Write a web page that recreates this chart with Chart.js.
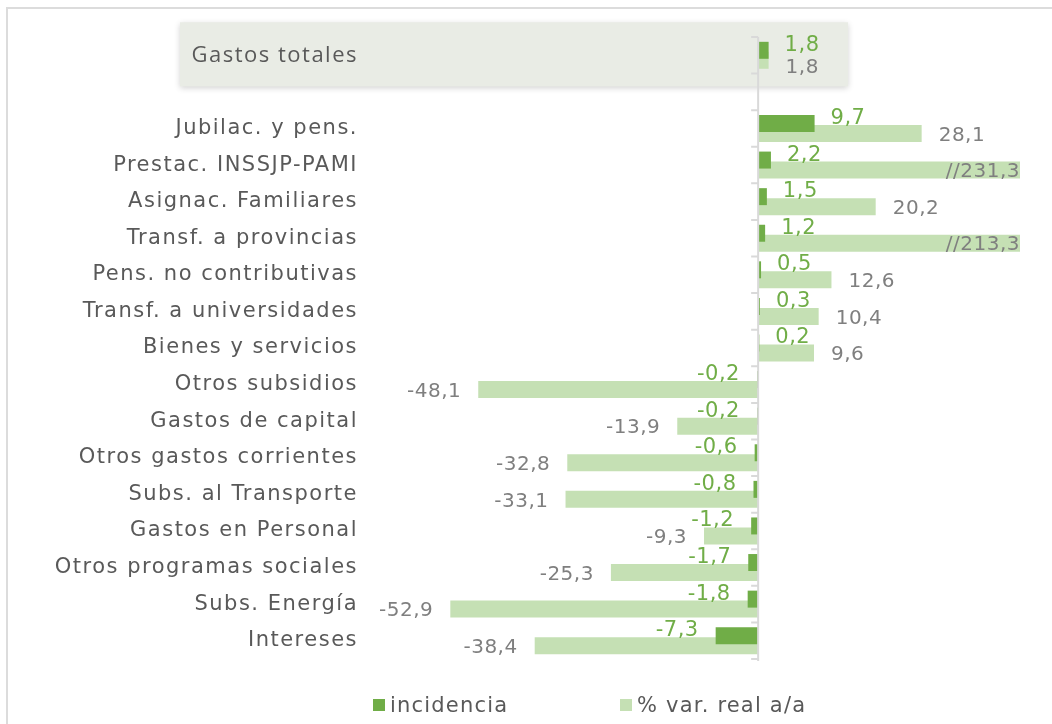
<!DOCTYPE html>
<html>
<head>
<meta charset="utf-8">
<script src="https://cdn.jsdelivr.net/npm/chart.js@4/dist/chart.umd.min.js"></script>
<style>
  body { margin: 0; background: #fff; overflow: hidden; }
  #frame { position: absolute; left: 6px; top: 7px; width: 1100px; height: 800px; border: 2px solid #dcdcdc; box-sizing: border-box; }
  #wrap { position: absolute; left: 0; top: 0; width: 1052px; height: 724px; }
  .leg { position: absolute; top: 693px; font: 21px "DejaVu Sans"; letter-spacing: 1.2px; color: #595959; display: flex; align-items: center; }
  .leg span.box { display: inline-block; width: 12px; height: 12px; margin-right: 5px; }
</style>
</head>
<body>
<div id="frame"></div>
<div id="wrap"><canvas id="gastos" width="1052" height="724"></canvas></div>
<div class="leg" id="leg0" style="left:373px"></div>
<div class="leg" id="leg1" style="left:620px"></div>
<script>
// categorias (la segunda queda vacia como separador)
let categorias = ["Gastos totales", "", "Jubilac. y pens.", "Prestac. INSSJP-PAMI", "Asignac. Familiares",
  "Transf. a provincias", "Pens. no contributivas", "Transf. a universidades", "Bienes y servicios",
  "Otros subsidios", "Gastos de capital", "Otros gastos corrientes", "Subs. al Transporte",
  "Gastos en Personal", "Otros programas sociales", "Subs. Energía", "Intereses"];
let incidencia = [1.8, null, 9.7, 2.2, 1.5, 1.2, 0.5, 0.3, 0.2, -0.2, -0.2, -0.6, -0.8, -1.2, -1.7, -1.8, -7.3];
let varReal = [1.8, null, 28.1, 231.3, 20.2, 213.3, 12.6, 10.4, 9.6, -48.1, -13.9, -32.8, -33.1, -9.3, -25.3, -52.9, -38.4];
let nombres = ["incidencia", "% var. real a/a"];
let colores = ["#70ad47", "#c5e0b4"];

function fmt(v) { return v.toFixed(1).replace(".", ","); }

// caja sombreada detras de "Gastos totales"
let cajaTotal = {
  id: "cajaTotal",
  beforeDraw(chart) {
    let ctx = chart.ctx;
    ctx.letterSpacing = "1.5px"; // el texto de las categorias va espaciado
    let yc = chart.scales.y.getPixelForValue(0);
    ctx.save();
    ctx.shadowColor = "rgba(0,0,0,0.18)";
    ctx.shadowBlur = 6;
    ctx.shadowOffsetY = 2;
    ctx.fillStyle = "#e9ece5";
    ctx.fillRect(180, yc - 33, 668, 64);
    ctx.restore();
  }
};

// eje vertical en cero con marcas entre categorias
let ejeCero = {
  id: "ejeCero",
  afterDatasetsDraw(chart) {
    let ctx = chart.ctx;
    let area = chart.chartArea;
    let x0 = chart.scales.x.getPixelForValue(0);
    let paso = (area.bottom - area.top) / categorias.length;
    ctx.save();
    ctx.strokeStyle = "#d9d9d9";
    ctx.lineWidth = 2;
    ctx.beginPath();
    ctx.moveTo(x0, area.top);
    ctx.lineTo(x0, area.bottom + 2);
    for (let i = 0; i <= categorias.length; i++) {
      let y = area.top + i * paso;
      ctx.moveTo(x0 - 7, y);
      ctx.lineTo(x0, y);
    }
    ctx.stroke();
    ctx.restore();
  }
};

// etiquetas de valores
let etiquetas = {
  id: "etiquetas",
  afterDatasetsDraw(chart) {
    let ctx = chart.ctx;
    let area = chart.chartArea;
    let xs = chart.scales.x;
    chart.data.datasets.forEach(function (ds, di) {
      let meta = chart.getDatasetMeta(di);
      meta.data.forEach(function (bar, i) {
        let v = ds.data[i];
        if (v === null) return;
        ctx.save();
        ctx.letterSpacing = "0.5px";
        ctx.textBaseline = "middle";
        if (di == 0) {
          ctx.font = "21px 'DejaVu Sans'";
          ctx.fillStyle = "#70ad47";
        } else {
          ctx.font = "20px 'DejaVu Sans'";
          ctx.fillStyle = "#7f7f7f";
        }
        let txt = fmt(v);
        let y = bar.y + (di == 0 ? -5 : 2);
        let x;
        if (v > xs.max) {
          txt = "//" + txt;
          ctx.textAlign = "right";
          x = area.right;
        } else if (v >= 0) {
          ctx.textAlign = "left";
          x = bar.x + (di == 0 ? 16 : 17);
        } else {
          ctx.textAlign = "right";
          x = bar.x - 17;
        }
        if (i == 0 && di == 1) y += 6;
        ctx.fillText(txt, x, y);
        ctx.restore();
      });
    });
  }
};

new Chart("gastos", {
  type: "bar",
  data: {
    labels: categorias,
    datasets: [{
      label: nombres[0],
      data: incidencia,
      backgroundColor: colores[0],
      categoryPercentage: 0.546,
      barPercentage: 1.7
    }, {
      label: nombres[1],
      data: varReal,
      backgroundColor: colores[1],
      categoryPercentage: 0.546,
      barPercentage: 1.7
    }]
  },
  options: {
    indexAxis: "y",
    responsive: false,
    animation: false,
    layout: { padding: { left: 0, right: 32, top: 37, bottom: 65 } },
    plugins: {
      legend: { display: false },
      tooltip: { enabled: false }
    },
    scales: {
      x: { display: false, min: -60, max: 45 },
      y: {
        grid: { display: false, drawTicks: false },
        border: { display: false },
        afterFit: function (s) {
          s.width = 409;
          s.paddingTop = 0;
          s.paddingBottom = 0;
        },
        ticks: {
          padding: 51,
          autoSkip: false,
          color: "#595959",
          font: function (c) {
            return c.index == 0 ? { family: "Open Sans", size: 22 } : { family: "DejaVu Sans", size: 21 };
          }
        }
      }
    }
  },
  plugins: [cajaTotal, ejeCero, etiquetas]
});

nombres.forEach(function (n, i) {
  let el = document.getElementById("leg" + i);
  el.innerHTML = '<span class="box" style="background:' + colores[i] + '"></span>' + n;
});
</script>
</body>
</html>
